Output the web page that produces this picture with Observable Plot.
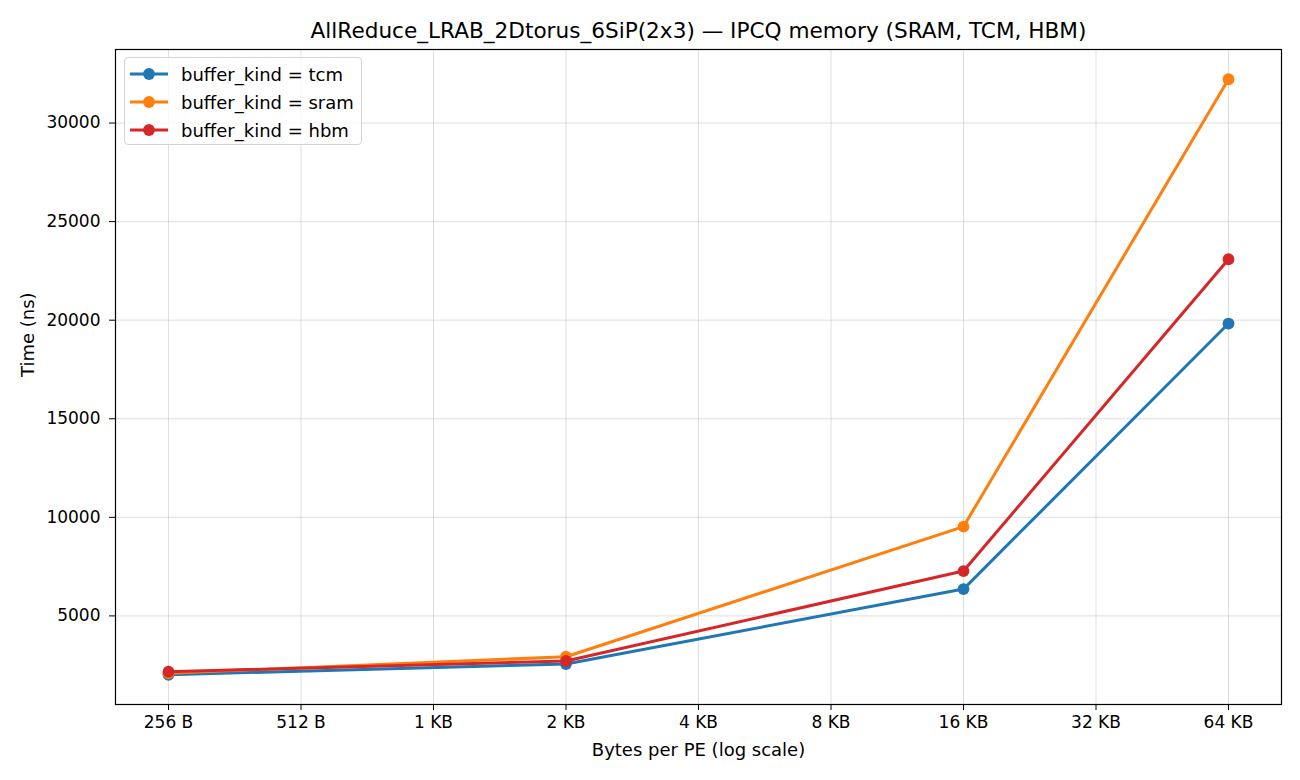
<!DOCTYPE html>
<html>
<head>
<meta charset="utf-8">
<script src="https://cdn.jsdelivr.net/npm/d3@7"></script>
<script src="https://cdn.jsdelivr.net/npm/@observablehq/plot@0.6"></script>
<style>
  html, body { margin: 0; padding: 0; background: white; }
  #wrap { position: relative; width: 1300px; height: 780px; font-family: "DejaVu Sans", sans-serif; }
  #legend { position: absolute; left: 124px; top: 57px; width: 238px; height: 88px; border: 1px solid #d4d4d4; border-radius: 4px; background: rgba(255,255,255,0.8); box-sizing: border-box; }
  .row { position: absolute; left: 0; height: 28px; display: flex; align-items: center; font-size: 18px; color: #000; white-space: nowrap; }
  .row svg { margin-left: 5px; margin-right: 13px; }
</style>
</head>
<body>
<div id="wrap"></div>
<script>
const series = ["tcm", "sram", "hbm"];
const colors = ["#1f77b4", "#ff7f0e", "#d62728"];
const bytesPerPE = [256, 2048, 16384, 65536];
const tcmTime = [2016, 2560, 6360, 19830];
const sramTime = [2090, 2930, 9530, 32220];
const hbmTime = [2168, 2712, 7275, 23090];
const xTickValues = [256, 512, 1024, 2048, 4096, 8192, 16384, 32768, 65536];
const xTickLabels = ["256 B", "512 B", "1 KB", "2 KB", "4 KB", "8 KB", "16 KB", "32 KB", "64 KB"];
const yTickValues = [5000, 10000, 15000, 20000, 25000, 30000];
const titleText = "AllReduce_LRAB_2Dtorus_6SiP(2x3) — IPCQ memory (SRAM, TCM, HBM)";
const xLabel = "Bytes per PE (log scale)";
const yLabel = "Time (ns)";

const seriesValues = { tcm: tcmTime, sram: sramTime, hbm: hbmTime };
const rows = series.map(k => bytesPerPE.map((b, i) => ({ kind: k, bytes: b, time: seriesValues[k][i] })));

const allT = [...tcmTime, ...sramTime, ...hbmTime];
const tMin = d3.min(allT), tMax = d3.max(allT), pad = (tMax - tMin) * 0.05;

const seriesMarks = [];
rows.forEach((r, i) => {
  seriesMarks.push(Plot.line(r, { x: "bytes", y: "time", stroke: colors[i], strokeWidth: 3 }));
  seriesMarks.push(Plot.dot(r, { x: "bytes", y: "time", fill: colors[i], r: 5.9, stroke: "none" }));
});

const chart = Plot.plot({
  width: 1300,
  height: 780,
  marginTop: 49,
  marginBottom: 76,
  marginLeft: 115,
  marginRight: 19,
  style: { fontFamily: "DejaVu Sans, sans-serif", fontSize: "17px", background: "white", color: "black" },
  x: { type: "log", base: 2, domain: [256 / Math.pow(2, 0.4), 65536 * Math.pow(2, 0.4)] },
  y: { domain: [tMin - pad, tMax + pad] },
  marks: [
    Plot.gridX(xTickValues, { stroke: "#b0b0b0", strokeOpacity: 0.4, strokeWidth: 1 }),
    Plot.gridY(yTickValues, { stroke: "#b0b0b0", strokeOpacity: 0.4, strokeWidth: 1 }),
    Plot.axisX(xTickValues, { tickSize: 6, tickPadding: 5, tickFormat: d => xTickLabels[xTickValues.indexOf(d)], label: null, fontSize: 17, stroke: "black" }),
    Plot.axisY(yTickValues, { tickSize: 6, tickPadding: 9, tickFormat: d => String(d), label: null, fontSize: 17, stroke: "black" }),
    ...seriesMarks,
    Plot.frame({ stroke: "black", strokeWidth: 1.2 }),
    Plot.text([titleText], { frameAnchor: "top", lineAnchor: "middle", dy: -18, fontSize: 21.6, fill: "black" }),
    Plot.text([xLabel], { frameAnchor: "bottom", lineAnchor: "middle", dy: 46, fontSize: 18, fill: "black" }),
    Plot.text([yLabel], { frameAnchor: "left", lineAnchor: "middle", dx: -87, rotate: -90, fontSize: 18, fill: "black" })
  ]
});

const wrap = document.getElementById("wrap");
wrap.appendChild(chart);

const legend = document.createElement("div");
legend.id = "legend";
series.forEach((k, i) => {
  const row = document.createElement("div");
  row.className = "row";
  row.style.top = (2 + i * 28) + "px";
  row.innerHTML = `<svg width="38" height="14"><line x1="0" y1="7" x2="38" y2="7" stroke="${colors[i]}" stroke-width="3"/><circle cx="19" cy="7" r="5.9" fill="${colors[i]}"/></svg><span>buffer_kind = ${k}</span>`;
  legend.appendChild(row);
});
wrap.appendChild(legend);
</script>
</body>
</html>
